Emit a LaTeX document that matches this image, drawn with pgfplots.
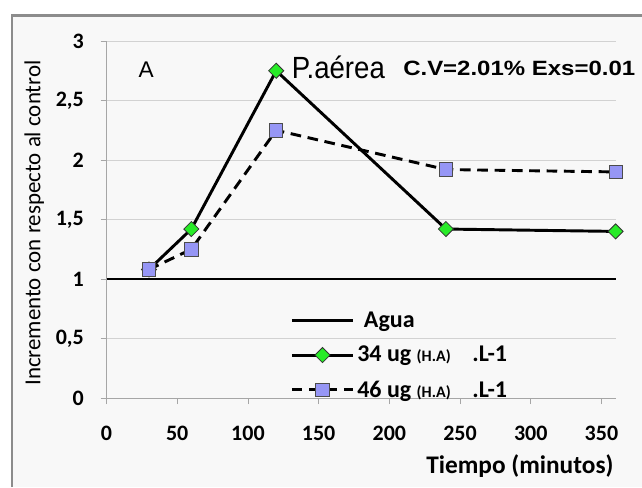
\documentclass[border=0pt]{standalone}
\usepackage{fontspec}
\setmainfont{Carlito}
\newfontfamily\arial{Liberation Sans}
\usepackage{pgfplots}
\pgfplotsset{compat=1.18}
\definecolor{markgreen}{RGB}{40,235,40}
\definecolor{markblue}{RGB}{150,150,245}
\definecolor{framegray}{RGB}{140,140,140}
\definecolor{bggray}{RGB}{248,248,248}

\begin{document}
\begin{tikzpicture}
\path[use as bounding box] (-79.875pt,-66.75pt) rectangle (401.6pt,298.5pt);
% background and frame
\fill[bggray] (-70.9pt,-66.75pt) rectangle (401.6pt,286.9pt);
\draw[framegray, line width=2pt] (-70.9pt,-66.75pt) -- (-70.9pt,286.9pt) -- (401.6pt,286.9pt);
\begin{axis}[
  scale only axis,
  anchor=south west, at={(0pt,0pt)},
  width=381.8pt, height=267.75pt,
  xmin=0, xmax=360, ymin=0, ymax=3,
  xtick={0,50,...,350}, ytick={0,0.5,...,3},
  axis x line*=bottom, axis y line*=left,
  axis line style={gray!70, line width=0.6pt},
  tick style={gray!70, line width=0.6pt},
  tick align=outside, major tick length=4.5pt,
  ymajorgrids, grid style={gray!35, line width=0.6pt},
  /pgf/number format/use comma,
  /pgf/number format/assume math mode=true,
  tick label style={font=\bfseries\fontsize{16.5}{17}\selectfont, black},
  xticklabel style={yshift=-13pt},
  yticklabel style={xshift=-9pt},
  xlabel={\bfseries Tiempo (minutos)},
  xlabel style={font=\fontsize{19}{20}\selectfont, at={(rel axis cs:0.812,-0.19)}, anchor=center},
  ylabel={Incremento con respecto al control},
  ylabel style={font=\fontsize{17.2}{18}\selectfont, at={(axis description cs:-0.142,0.49)}, anchor=center},
  clip=false,
  legend style={draw=none, fill=none, at={(axis cs:127,0.77)}, anchor=north west,
    font=\bfseries\fontsize{18}{19}\selectfont, row sep=8.5pt, cells={anchor=west}},
  legend image code/.code={
    \draw[mark repeat=2, mark phase=2, #1] plot coordinates {(0pt,0pt) (23pt,0pt) (46pt,0pt)};
  },
]
\addplot[black, line width=2.2pt] coordinates {(0,1) (360,1)};
\addlegendentry{\hspace{5pt}Agua}
\addplot[black, line width=2.2pt, mark=square*, mark size=4pt,
  mark options={solid, rotate=45, fill=markgreen, draw=black!80, line width=0.6pt}] coordinates {
  (30,1.08) (60,1.42) (120,2.75) (240,1.42) (360,1.40)
};
\addlegendentry{34 ug {\fontsize{12}{13}\selectfont(H.A)}\hspace{0.9em}.L-1}
\addplot[black, line width=2.2pt, dash pattern=on 8pt off 5pt, mark=square*, mark size=5pt,
  mark options={solid, fill=markblue, draw=black!70, line width=0.6pt}] coordinates {
  (30,1.08) (60,1.25) (120,2.25) (240,1.92) (360,1.90)
};
\addlegendentry{46 ug {\fontsize{12}{13}\selectfont(H.A)}\hspace{0.9em}.L-1}
\node[anchor=center, font=\arial\fontsize{17}{18}\selectfont] at (axis cs:28,2.76) {A};
\node[anchor=west, font=\arial\fontsize{23}{24}\selectfont, xscale=0.9] at (axis cs:128,2.78) {P.aérea};
\node[anchor=west, font=\arial\bfseries\fontsize{15.5}{16}\selectfont, xscale=1.16] at (axis cs:206,2.77) {C.V=2.01\% Exs=0.01};
\end{axis}
\end{tikzpicture}
\end{document}
